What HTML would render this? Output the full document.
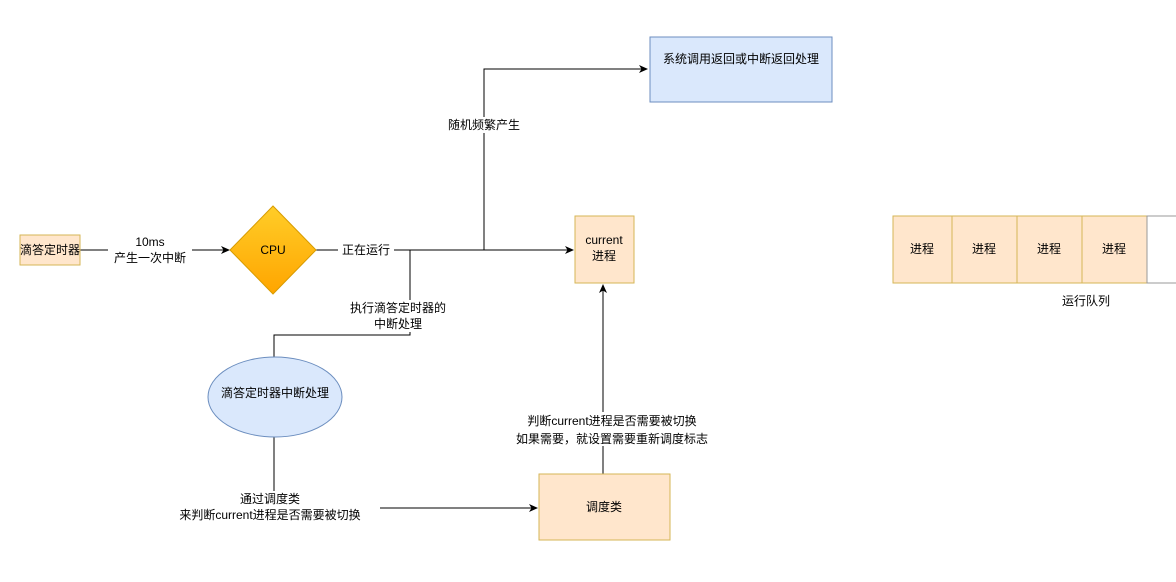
<!DOCTYPE html>
<html><head><meta charset="utf-8"><style>
html,body{margin:0;padding:0;background:#fff;}
svg text{font-family:"Liberation Sans","Noto Sans CJK SC",sans-serif;font-size:12px;fill:#000;}
</style></head><body>
<svg width="1176" height="577" viewBox="0 0 1176 577" xmlns="http://www.w3.org/2000/svg">
<defs>
<linearGradient id="g" x1="0" y1="0" x2="0" y2="1"><stop offset="0" stop-color="#ffcd28"/><stop offset="1" stop-color="#ffa500"/></linearGradient>
<marker id="a" markerWidth="10" markerHeight="10" refX="8" refY="5" orient="auto" markerUnits="userSpaceOnUse"><path d="M0,1 L9,5 L0,9 L2.5,5 Z" fill="#000"/></marker>
</defs>
<!-- edges -->
<line x1="80" y1="250" x2="229" y2="250" stroke="#000" marker-end="url(#a)"/>
<rect x="108" y="234" width="84" height="32" fill="#fff"/>
<text x="150" y="246" text-anchor="middle">10ms</text>
<text x="150" y="262" text-anchor="middle">产生一次中断</text>
<line x1="316" y1="250" x2="573" y2="250" stroke="#000" marker-end="url(#a)"/>
<rect x="338" y="242" width="56" height="16" fill="#fff"/>
<text x="366" y="254" text-anchor="middle">正在运行</text>
<polyline points="484,250 484,69 647,69" fill="none" stroke="#000" marker-end="url(#a)"/>
<rect x="440" y="117" width="88" height="16" fill="#fff"/>
<text x="484" y="129" text-anchor="middle">随机频繁产生</text>
<polyline points="410,250 410,335 274,335 274,368" fill="none" stroke="#000" marker-end="url(#a)"/>
<rect x="344" y="300" width="108" height="32" fill="#fff"/>
<text x="398" y="312" text-anchor="middle">执行滴答定时器的</text>
<text x="398" y="328" text-anchor="middle">中断处理</text>
<polyline points="274,436 274,508 537,508" fill="none" stroke="#000" marker-end="url(#a)"/>
<rect x="170" y="491" width="210" height="32" fill="#fff"/>
<text x="270" y="503" text-anchor="middle">通过调度类</text>
<text x="270" y="519" text-anchor="middle">来判断current进程是否需要被切换</text>
<line x1="603" y1="474" x2="603" y2="285" stroke="#000" marker-end="url(#a)"/>
<rect x="494" y="412" width="236" height="34" fill="#fff"/>
<text x="612" y="425" text-anchor="middle">判断current进程是否需要被切换</text>
<text x="612" y="443" text-anchor="middle">如果需要，就设置需要重新调度标志</text>
<!-- nodes -->
<rect x="20" y="235" width="60" height="30" fill="#ffe6cc" stroke="#d6b656"/>
<text x="50" y="254" text-anchor="middle">滴答定时器</text>
<polygon points="273,206 316,250 273,294 230,250" fill="url(#g)" stroke="#d79b00"/>
<text x="273" y="254" text-anchor="middle">CPU</text>
<rect x="650" y="37" width="182" height="65" fill="#dae8fc" stroke="#6c8ebf"/>
<text x="741" y="63" text-anchor="middle">系统调用返回或中断返回处理</text>
<rect x="575" y="216" width="59" height="67" fill="#ffe6cc" stroke="#d6b656"/>
<text x="604" y="244" text-anchor="middle">current</text>
<text x="604" y="260" text-anchor="middle">进程</text>
<ellipse cx="275" cy="397" rx="67" ry="40" fill="#dae8fc" stroke="#6c8ebf"/>
<text x="275" y="397" text-anchor="middle">滴答定时器中断处理</text>
<rect x="539" y="474" width="131" height="66" fill="#ffe6cc" stroke="#d6b656"/>
<text x="604" y="511" text-anchor="middle">调度类</text>
<!-- queue -->
<rect x="893" y="216" width="59" height="67" fill="#ffe6cc" stroke="#d6b656"/>
<rect x="952" y="216" width="65" height="67" fill="#ffe6cc" stroke="#d6b656"/>
<rect x="1017" y="216" width="65" height="67" fill="#ffe6cc" stroke="#d6b656"/>
<rect x="1082" y="216" width="65" height="67" fill="#ffe6cc" stroke="#d6b656"/>
<rect x="1147" y="216" width="40" height="67" fill="#fff" stroke="#999"/>
<text x="922" y="253" text-anchor="middle">进程</text>
<text x="984" y="253" text-anchor="middle">进程</text>
<text x="1049" y="253" text-anchor="middle">进程</text>
<text x="1114" y="253" text-anchor="middle">进程</text>
<text x="1086" y="305" text-anchor="middle">运行队列</text>
</svg>
</body></html>
